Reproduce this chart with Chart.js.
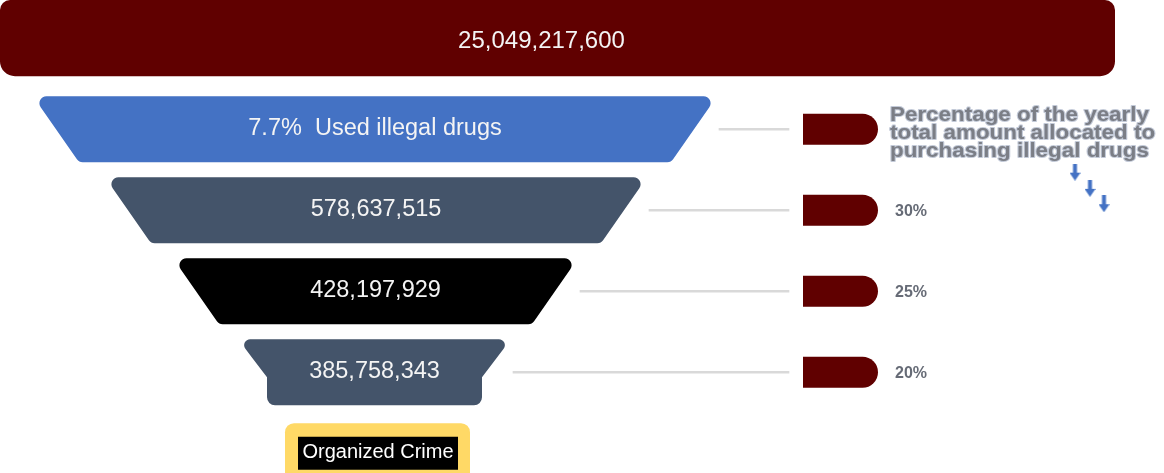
<!DOCTYPE html>
<html>
<head>
<meta charset="utf-8">
<script src="https://cdn.jsdelivr.net/npm/chart.js@4.4.1/dist/chart.umd.min.js"></script>
<style>
  html, body { margin: 0; padding: 0; background: #fff; }
  #wrap { width: 1164px; height: 473px; position: relative; }
</style>
</head>
<body>
<div id="wrap"><canvas id="funnel"></canvas></div>
<script>
// ---- data ----
const totalLabel = '25,049,217,600';
const stageLabels = ['7.7%  Used illegal drugs', '578,637,515', '428,197,929', '385,758,343'];
const percentLabels = ['', '30%', '25%', '20%'];
const bottomLabel = 'Organized Crime';
const captionLines = ['Percentage of the yearly', 'total amount allocated to', 'purchasing illegal drugs'];

// funnel extents on the x axis (0..1164), one row per stage
const totalRange = [0, 1115];
const stageRanges = [[33, 717], [105, 647], [173, 578], [238, 511]];
const markerRange = [803, 878];
const connectorEnd = 789;
const bottomBoxRange = [285, 470];
const bottomInnerRange = [298, 458];
// little blue arrows under the caption (x, row position)
const arrowX = [1075, 1090, 1104];
const arrowRow = [1.53, 1.73, 1.92];

// ---- styles ----
const FONT = "'Liberation Sans', Arial, sans-serif";
const darkRed = '#600000';
const stageColors = ['#4472c4', '#44546a', '#000000', '#44546a'];
const stageShapes = ['trap', 'trap', 'trap', 'neck'];

const stageRows = stageRanges.map((r, i) => i + 1);

// arrow point style
const arrowImg = document.createElement('canvas');
arrowImg.width = 11; arrowImg.height = 17;
(function () {
  const g = arrowImg.getContext('2d');
  g.fillStyle = '#4472c4';
  g.fillRect(3.5, 0, 4, 10);
  g.beginPath();
  g.moveTo(0, 9); g.lineTo(11, 9); g.lineTo(5.5, 17); g.closePath();
  g.fill();
})();

function roundPoly(ctx, pts, radii) {
  const n = pts.length;
  const last = pts[n - 1], first = pts[0];
  ctx.beginPath();
  ctx.moveTo((last[0] + first[0]) / 2, (last[1] + first[1]) / 2);
  for (let i = 0; i < n; i++) {
    const p = pts[i], q = pts[(i + 1) % n];
    ctx.arcTo(p[0], p[1], q[0], q[1], radii[i]);
  }
  ctx.closePath();
}

function boxOf(el) {
  const p = el.getProps(['x', 'y', 'base', 'height'], true);
  return {
    L: Math.min(p.x, p.base), R: Math.max(p.x, p.base),
    T: p.y - p.height / 2, B: p.y + p.height / 2, cy: p.y
  };
}

const shapePlugin = {
  id: 'shapes',
  beforeDatasetDraw(chart, args) {
    const ds = chart.data.datasets[args.index];
    if (!ds.shape) return;
    const ctx = chart.ctx;
    ctx.save();
    args.meta.data.forEach((el, i) => {
      const b = boxOf(el);
      const shape = Array.isArray(ds.shape) ? ds.shape[i] : ds.shape;
      const color = Array.isArray(ds.backgroundColor) ? ds.backgroundColor[i] : ds.backgroundColor;
      ctx.fillStyle = color;
      if (shape === 'header') {
        const top = chart.chartArea.top;
        roundPoly(ctx, [[b.L, top], [b.R, top], [b.R, b.B], [b.L, b.B]], [10, 10, 15, 15]);
      } else if (shape === 'trap') {
        const s = 46;
        roundPoly(ctx, [[b.L, b.T], [b.R, b.T], [b.R - s, b.B], [b.L + s, b.B]], [7, 7, 7, 7]);
      } else if (shape === 'neck') {
        const s = 29, k = 38;
        roundPoly(ctx, [[b.L, b.T], [b.R, b.T], [b.R - s, b.T + k], [b.R - s, b.B],
                        [b.L + s, b.B], [b.L + s, b.T + k]], [6, 6, 0, 8, 8, 0]);
      } else if (shape === 'bullet') {
        const r = (b.B - b.T) / 2;
        ctx.beginPath();
        ctx.roundRect(b.L, b.T, b.R - b.L, b.B - b.T, [0, r, r, 0]);
      } else if (shape === 'box') {
        ctx.beginPath();
        ctx.roundRect(b.L, b.T, b.R - b.L, b.B - b.T, 9);
      } else {
        ctx.beginPath();
        ctx.rect(b.L, b.T, b.R - b.L, b.B - b.T);
      }
      ctx.fill();
    });
    ctx.restore();
    return false;
  },
  afterDatasetsDraw(chart) {
    const ctx = chart.ctx;
    ctx.save();
    ctx.textBaseline = 'middle';
    ctx.textAlign = 'center';

    // header value
    const h = boxOf(chart.getDatasetMeta(0).data[0]);
    ctx.fillStyle = '#f4f4f4';
    ctx.font = '24px ' + FONT;
    ctx.fillText(totalLabel, (h.L + h.R) / 2 - 16, (chart.chartArea.top + h.B) / 2 + 3);

    // stage values
    ctx.font = '23.5px ' + FONT;
    chart.getDatasetMeta(1).data.forEach((el, i) => {
      const b = boxOf(el);
      ctx.fillText(stageLabels[i], (b.L + b.R) / 2, b.cy - 1);
    });

    // bottom label
    const inner = boxOf(chart.getDatasetMeta(5).data[0]);
    ctx.font = '20px ' + FONT;
    ctx.fillStyle = '#ffffff';
    ctx.fillText(bottomLabel, (inner.L + inner.R) / 2, inner.cy - 1);

    // percentages next to markers
    const markers = chart.getDatasetMeta(3).data.map(boxOf);
    ctx.textAlign = 'left';
    ctx.font = 'bold 16px ' + FONT;
    ctx.fillStyle = '#666b76';
    markers.forEach((b, i) => {
      if (percentLabels[i]) ctx.fillText(percentLabels[i], b.R + 17, b.cy + 1);
    });

    // caption
    const m0 = markers[0];
    ctx.font = 'bold 20px ' + FONT;
    ctx.lineJoin = 'round';
    captionLines.forEach((line, i) => {
      ctx.save();
      ctx.translate(m0.R + 12, m0.cy - 14 + i * 18);
      ctx.scale(1.12, 1);
      ctx.strokeStyle = '#c3cad8';
      ctx.lineWidth = 2;
      ctx.strokeText(line, 0, 0);
      ctx.fillStyle = '#7b7e86';
      ctx.fillText(line, 0, 0);
      ctx.restore();
    });
    ctx.restore();
  }
};

const ctx = document.getElementById('funnel');
new Chart(ctx, {
  type: 'bar',
  data: {
    datasets: [
      { // total bar
        data: [{ x: totalRange, y: 0 }],
        backgroundColor: darkRed, shape: 'header', barThickness: 56
      },
      { // funnel stages
        data: stageRanges.map((r, i) => ({ x: r, y: stageRows[i] })),
        backgroundColor: stageColors, shape: stageShapes, barThickness: 66
      },
      { // connector lines
        data: stageRanges.map((r, i) => ({ x: [r[1] + 2, connectorEnd], y: stageRows[i] })),
        backgroundColor: '#d9d9d9', barThickness: 2
      },
      { // right hand markers
        data: stageRows.map(y => ({ x: markerRange, y: y })),
        backgroundColor: darkRed, shape: 'bullet', barThickness: 31
      },
      { // yellow box (drawn underneath the black label box)
        data: [{ x: bottomBoxRange, y: 5 }],
        backgroundColor: '#ffd966', shape: 'box', barThickness: 60, order: 1
      },
      { // black label box
        data: [{ x: bottomInnerRange, y: 5 }],
        backgroundColor: '#000000', shape: 'plain', barThickness: 33
      },
      { // arrows
        type: 'line',
        data: arrowX.map((x, i) => ({ x: x, y: arrowRow[i] })),
        showLine: false,
        pointStyle: arrowImg,
        pointRadius: 8
      }
    ]
  },
  options: {
    indexAxis: 'y',
    responsive: true,
    maintainAspectRatio: false,
    animation: false,
    devicePixelRatio: 1,
    layout: { padding: 0, autoPadding: false },
    datasets: { bar: { grouped: false, borderWidth: 0 } },
    scales: {
      x: { type: 'linear', min: 0, max: 1164, offset: false, display: false },
      y: { type: 'linear', min: -0.595, max: 5.244, reverse: true, offset: false, display: false }
    },
    plugins: {
      legend: { display: false },
      tooltip: { enabled: false }
    }
  },
  plugins: [shapePlugin]
});
</script>
</body>
</html>
